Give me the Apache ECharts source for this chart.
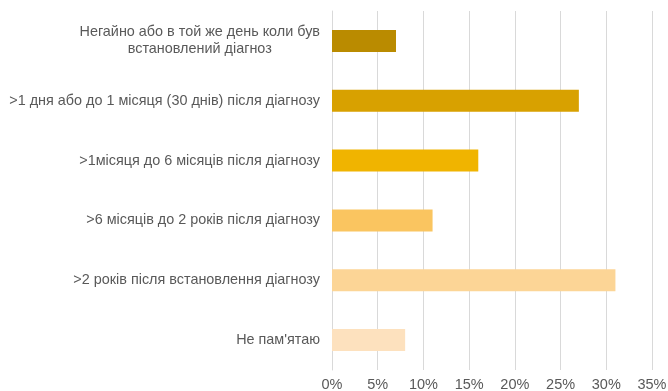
<!DOCTYPE html>
<html>
<head>
<meta charset="utf-8">
<script src="https://cdn.jsdelivr.net/npm/echarts@6/dist/echarts.min.js"></script>
<style>
  html, body { margin: 0; padding: 0; background: #ffffff; }
  #chart { width: 668px; height: 391px; }
</style>
</head>
<body>
<div id="chart"></div>
<script>
// Answer categories, top to bottom
const categories = [
  'Негайно або в той же день коли був\nвстановлений діагноз',
  '>1 дня або до 1 місяця (30 днів) після діагнозу',
  '>1місяця до 6 місяців після діагнозу',
  '>6 місяців до 2 років після діагнозу',
  '>2 років після встановлення діагнозу',
  'Не пам\'ятаю'
];
// Share of respondents, percent
const values = [7, 27, 16, 11, 31, 8];
// Fill per bar, from dark gold to pale peach
const barColors = ['#BA8B00', '#D8A100', '#F0B400', '#FAC560', '#FCD596', '#FDE1BE'];
// Value axis ticks
const axisMax = 35;
const axisStep = 5;

const textColor = '#595959';
const font = '"Liberation Sans", Arial, sans-serif';

const chart = echarts.init(document.getElementById('chart'), null, { renderer: 'canvas' });

chart.setOption({
  animation: false,
  backgroundColor: '#ffffff',
  grid: {
    left: 332, right: 16, top: 11, bottom: 21,
    containLabel: false,
    outerBoundsMode: 'none'
  },
  xAxis: {
    type: 'value',
    min: 0,
    max: axisMax,
    interval: axisStep,
    axisLine: { show: false },
    axisTick: { show: false },
    splitLine: { show: true, lineStyle: { color: '#D9D9D9', width: 1 } },
    axisLabel: {
      formatter: v => v + '%',
      color: textColor,
      fontFamily: font,
      fontSize: 14.5,
      margin: 7
    }
  },
  yAxis: {
    type: 'category',
    inverse: true,
    data: categories,
    axisLine: { show: true, lineStyle: { color: '#D9D9D9', width: 1 } },
    axisTick: { show: false },
    axisLabel: {
      color: textColor,
      fontFamily: font,
      fontSize: 14.4,
      margin: 12,
      lineHeight: 17,
      formatter: function (v) {
        const parts = v.split('\n');
        if (parts.length > 1) {
          return parts.map(p => '{c|' + p + '}').join('\n');
        }
        return v;
      },
      rich: {
        c: { align: 'center', color: textColor, fontFamily: font, fontSize: 14.4, lineHeight: 17 }
      }
    }
  },
  series: [{
    type: 'bar',
    data: values.map((v, i) => ({ value: v, itemStyle: { color: barColors[i] } })),
    barWidth: 22
  }]
});
</script>
</body>
</html>
